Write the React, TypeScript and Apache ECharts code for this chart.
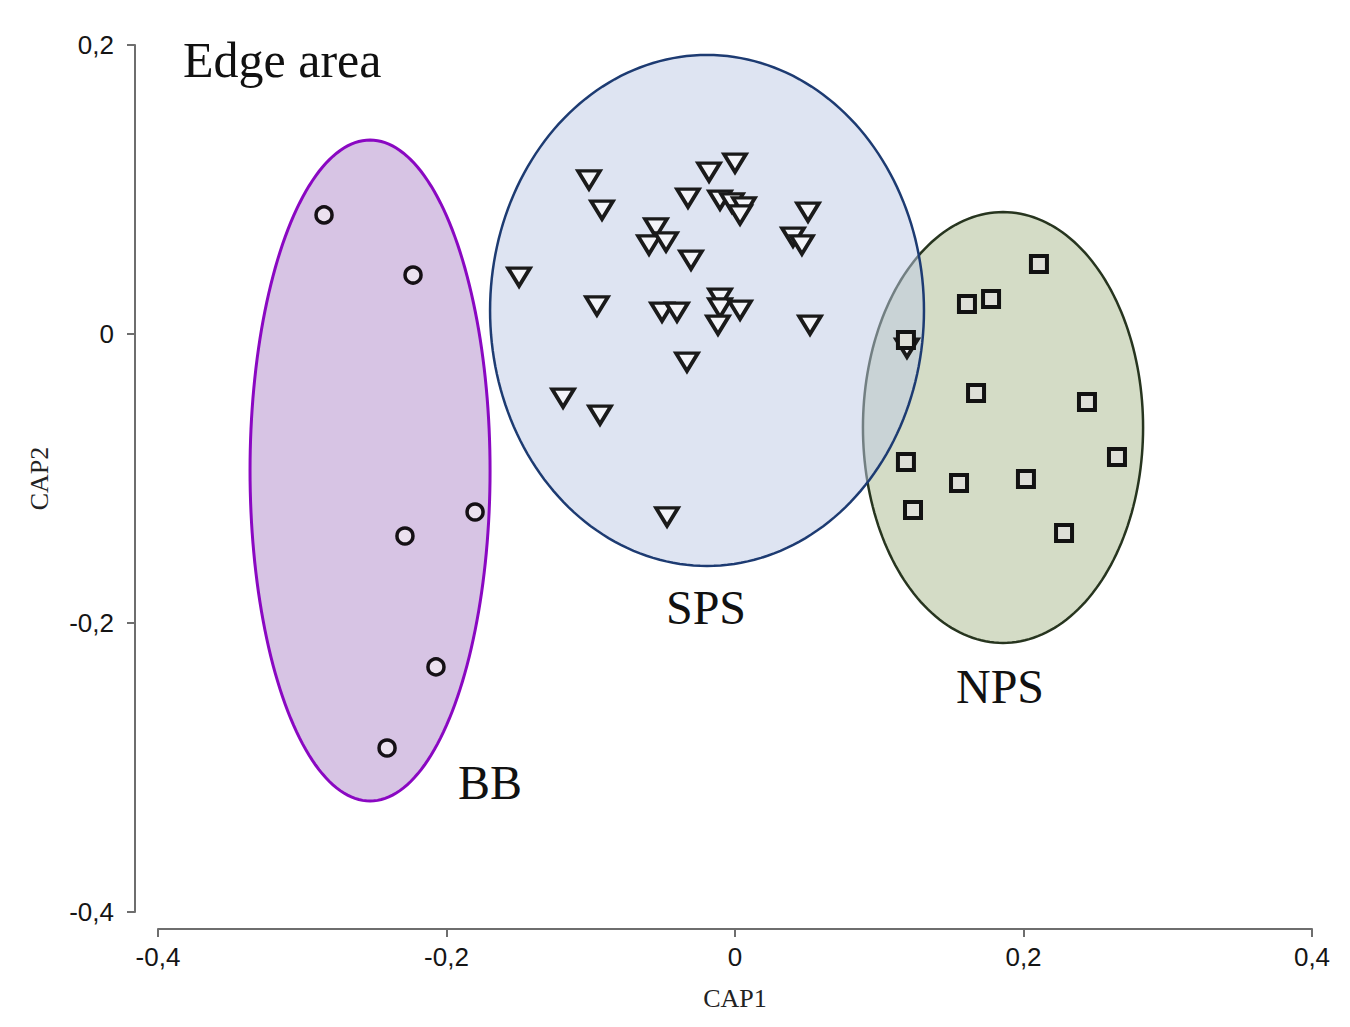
import React, { useEffect, useRef } from "react";
import * as echarts from "echarts";

// ---- Data (CAP1, CAP2) ----
const bbX = [-0.2849, -0.2232, -0.1802, -0.2288, -0.2073, -0.2412];
const bbY = [0.0824, 0.0408, -0.1232, -0.1398, -0.2304, -0.2865];

const spsX = [
  -0.1012, -0.0922, -0.0326, -0.018, 0.0, -0.0104, -0.0021, 0.0062, 0.0035, 0.0506,
  0.0402, 0.0464, -0.0548, -0.0596, -0.0478, -0.0305, -0.1497, -0.0957, -0.0506, -0.0402,
  -0.0104, -0.0104, 0.0035, -0.0118, 0.052, -0.0333, -0.1192, -0.0936, -0.0471, 0.1192,
];
const spsY = [
  0.1066, 0.0858, 0.0941, 0.1121, 0.1183, 0.0927, 0.0907, 0.0879, 0.0824, 0.0844,
  0.0671, 0.0616, 0.0734, 0.0616, 0.0637, 0.0512, 0.0394, 0.0194, 0.0152, 0.0152,
  0.0249, 0.018, 0.0166, 0.0062, 0.0062, -0.0194, -0.0443, -0.0561, -0.1266, -0.0097,
];

const npsX = [0.2107, 0.1608, 0.1775, 0.1671, 0.244, 0.2648, 0.1185, 0.1553, 0.2017, 0.1234, 0.2281, 0.1185];
const npsY = [0.0484, 0.0208, 0.0242, -0.0408, -0.0471, -0.0851, -0.0886, -0.1031, -0.1003, -0.1218, -0.1377, -0.0042];

// Group ellipses: centre and semi-axes in data units
const groupNames = ["NPS", "BB", "SPS"];
const ellipseCx = [0.1858, -0.253, -0.0194];
const ellipseCy = [-0.0647, -0.0945, 0.0163];
const ellipseRx = [0.0971, 0.0832, 0.1504];
const ellipseRy = [0.1491, 0.2287, 0.1768];

// Axis ticks
const xTicks = [-0.4, -0.2, 0, 0.2, 0.4];
const yTicks = [-0.4, -0.2, 0, 0.2];

const ellipseFill = ["#d4dcc6", "#d7c4e4", "rgba(189,201,229,0.5)"];
const ellipseStroke = ["#27351f", "#8a08c2", "#1d3b72"];
const ellipseWidth = [2.5, 3, 2.5];

const fmt = (v: number) => {
  if (Math.abs(v) < 1e-9) return "0";
  return v.toFixed(1).replace(".", ",");
};

const zip = (xs: number[], ys: number[]) => xs.map((x, i) => [x, ys[i]]);

export default function App() {
  const ref = useRef<HTMLDivElement>(null);
  useEffect(() => {
    if (!ref.current) return;
    const chart = echarts.init(ref.current, undefined, { renderer: "svg" });
    const serif = "Liberation Serif";
    const sans = "Liberation Sans";
    const axisCommon = {
      type: "value" as const,
      interval: 0.2,
      splitLine: { show: false },
      axisLine: { show: true, onZero: false, lineStyle: { color: "#6e6e6e", width: 2 } },
      axisTick: { show: true, length: 8, lineStyle: { color: "#6e6e6e", width: 2 } },
      axisLabel: {
        color: "#151515",
        fontFamily: sans,
        fontSize: 26,
        formatter: (v: number) => fmt(v),
      },
    };
    chart.setOption({
      animation: false,
      backgroundColor: "#ffffff",
      grid: { left: 158, right: 38, top: 45, bottom: 115 },
      xAxis: {
        ...axisCommon,
        min: xTicks[0],
        max: xTicks[xTicks.length - 1],
        offset: 17,
        name: "CAP1",
        nameLocation: "middle",
        nameGap: 56,
        nameTextStyle: { fontFamily: serif, fontSize: 26, color: "#222" },
        axisLabel: { ...axisCommon.axisLabel, margin: 15 },
      },
      yAxis: {
        ...axisCommon,
        min: yTicks[0],
        max: yTicks[yTicks.length - 1],
        offset: 23,
        name: "CAP2",
        nameLocation: "middle",
        nameRotate: 90,
        nameGap: 83,
        nameTextStyle: { fontFamily: serif, fontSize: 26, color: "#222" },
        axisLabel: { ...axisCommon.axisLabel, margin: 21 },
      },
      series: [
        {
          type: "custom",
          silent: true,
          clip: false,
          encode: { x: 0, y: 1 },
          data: groupNames.map((_, i) => [ellipseCx[i], ellipseCy[i], ellipseRx[i], ellipseRy[i], i]),
          renderItem: (params: any, api: any) => {
            const cx = api.value(0);
            const cy = api.value(1);
            const rx = api.value(2);
            const ry = api.value(3);
            const idx = api.value(4);
            const pts: number[][] = [];
            const n = 200;
            for (let k = 0; k < n; k++) {
              const t = (k / n) * Math.PI * 2;
              pts.push(api.coord([cx + rx * Math.cos(t), cy + ry * Math.sin(t)]));
            }
            return {
              type: "polygon",
              shape: { points: pts },
              style: {
                fill: ellipseFill[idx],
                stroke: ellipseStroke[idx],
                lineWidth: ellipseWidth[idx],
              },
            };
          },
          z: 1,
        },
        {
          type: "scatter",
          name: "BB",
          data: zip(bbX, bbY),
          symbol: "circle",
          symbolSize: 16,
          itemStyle: { color: "#ece2ef", borderColor: "#151015", borderWidth: 3.5, opacity: 1 },
          z: 3,
        },
        {
          type: "scatter",
          name: "SPS",
          data: zip(spsX, spsY),
          symbol: "triangle",
          symbolRotate: 180,
          symbolSize: [22, 18],
          itemStyle: { color: "#f3f4f9", borderColor: "#1a1a1a", borderWidth: 3.6, opacity: 1 },
          z: 3,
        },
        {
          type: "scatter",
          name: "NPS",
          data: zip(npsX, npsY),
          symbol: "rect",
          symbolSize: 16,
          itemStyle: { color: "#dedfd8", borderColor: "#121212", borderWidth: 4, opacity: 1 },
          z: 3,
        },
      ],
      graphic: [
        {
          type: "text",
          x: 183,
          y: 60,
          style: { text: "Edge area", font: `50px "${serif}"`, fill: "#111", align: "left", verticalAlign: "middle" },
          z: 10,
        },
        {
          type: "text",
          x: 706,
          y: 607,
          style: { text: "SPS", font: `48px "${serif}"`, fill: "#111", align: "center", verticalAlign: "middle" },
          z: 10,
        },
        {
          type: "text",
          x: 1000,
          y: 686,
          style: { text: "NPS", font: `48px "${serif}"`, fill: "#111", align: "center", verticalAlign: "middle" },
          z: 10,
        },
        {
          type: "text",
          x: 490,
          y: 782,
          style: { text: "BB", font: `48px "${serif}"`, fill: "#111", align: "center", verticalAlign: "middle" },
          z: 10,
        },
      ],
    });
    return () => chart.dispose();
  }, []);
  return (
    <div
      ref={ref}
      style={{ position: "absolute", left: 0, top: 0, width: 1350, height: 1027, background: "#fff" }}
    />
  );
}
